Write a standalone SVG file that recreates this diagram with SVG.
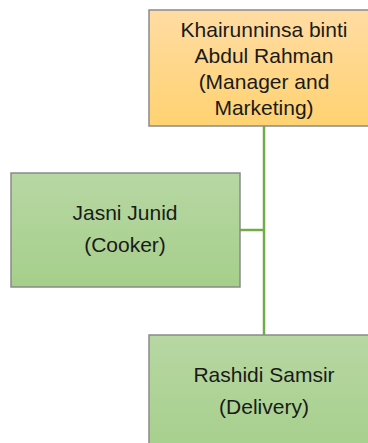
<svg xmlns="http://www.w3.org/2000/svg" width="368" height="443" viewBox="0 0 368 443">
<defs>
<linearGradient id="gOrange" x1="0" y1="0" x2="0" y2="1">
<stop offset="0" stop-color="#FFDCA3"/>
<stop offset="1" stop-color="#FFD271"/>
</linearGradient>
<linearGradient id="gGreen" x1="0" y1="0" x2="0" y2="1">
<stop offset="0" stop-color="#B7D7A3"/>
<stop offset="1" stop-color="#A6CF8B"/>
</linearGradient>
</defs>
<style>
.box{stroke:#8A8A8A;stroke-width:1.5}
.orange{fill:url(#gOrange)}
.green{fill:url(#gGreen)}
.conn{stroke:#70AD47;stroke-width:2.5;fill:none}
text{font-family:"Liberation Sans",Arial,sans-serif;font-size:21px;fill:#1a1a1a;text-anchor:middle}
</style>
<g id="connectors">
<path class="conn" d="M264 126 V335"/>
<path class="conn" d="M240 230 H264"/>
</g>
<g id="node-khairunninsa">
<rect class="box orange" x="149" y="10" width="230" height="116"/>
<text x="264" y="37">Khairunninsa binti</text>
<text x="264" y="63">Abdul Rahman</text>
<text x="264" y="89">(Manager and</text>
<text x="264" y="115">Marketing)</text>
</g>
<g id="node-jasni">
<rect class="box green" x="11" y="173" width="229" height="114"/>
<text x="125" y="220">Jasni Junid</text>
<text x="125" y="252">(Cooker)</text>
</g>
<g id="node-rashidi">
<rect class="box green" x="149" y="335" width="230" height="120"/>
<text x="264" y="382">Rashidi Samsir</text>
<text x="264" y="414">(Delivery)</text>
</g>
</svg>
